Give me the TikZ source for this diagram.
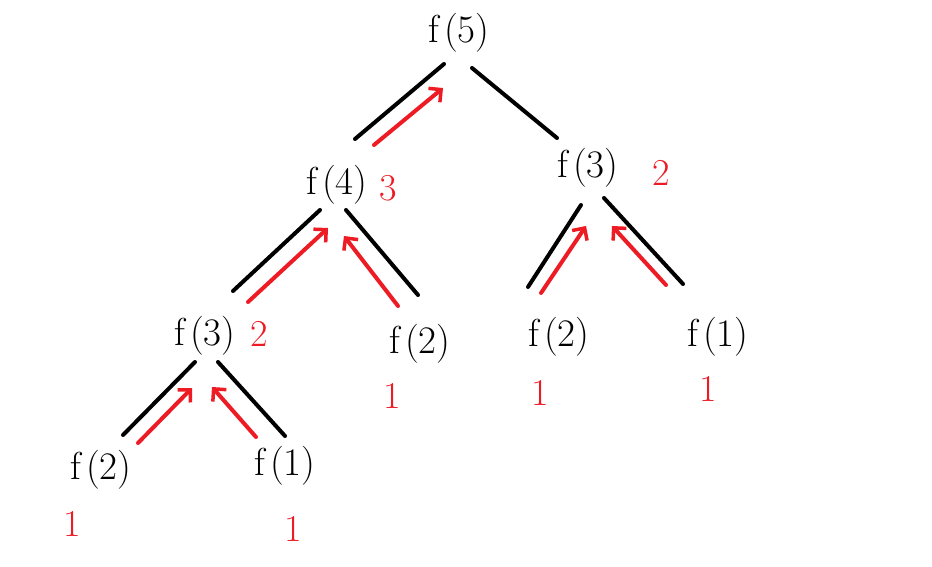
\documentclass[tikz,border=0pt]{standalone}
\usetikzlibrary{arrows.meta}
\definecolor{pred}{RGB}{237,28,36}
\newcommand{\fcall}[1]{f\kern5pt(#1)}
\begin{document}
\begin{tikzpicture}[x=1pt,y=-1pt,
  fn/.style={inner sep=0pt,font=\fontsize{39}{44}\selectfont},
  num/.style={inner sep=0pt,text=pred,font=\fontsize{38}{44}\selectfont},
  edge/.style={line width=4pt,line cap=round,black},
  back/.style={line width=4pt,line cap=round,pred,-{Straight Barb[length=9pt,width=18pt,line width=3.5pt]}}]
\useasboundingbox (0,0) rectangle (932,567);
% function nodes
\node[fn] (f5) at (459,33) {\fcall{5}};
\node[fn] (f4) at (337,185) {\fcall{4}};
\node[fn] (f3r) at (588,168) {\fcall{3}};
\node[fn] (f3l) at (205,336) {\fcall{3}};
\node[fn] (f2a) at (420,344) {\fcall{2}};
\node[fn] (f2b) at (559,337) {\fcall{2}};
\node[fn] (f1a) at (718,337) {\fcall{1}};
\node[fn] (f2c) at (101,470) {\fcall{2}};
\node[fn] (f1b) at (285,466) {\fcall{1}};
% values
\node[num] (v4) at (388,188) {3};
\node[num] (v3r) at (661,173) {2};
\node[num] (v3l) at (259,334) {2};
\node[num] (v2a) at (392,396) {1};
\node[num] (v2b) at (540,393) {1};
\node[num] (v1a) at (708,389) {1};
\node[num] (v2c) at (72,524) {1};
\node[num] (v1b) at (293,529) {1};
% edge end points
\coordinate (a1) at (444,64); \coordinate (a2) at (355,139);
\coordinate (b1) at (472,68); \coordinate (b2) at (557,138);
\coordinate (c1) at (320,210); \coordinate (c2) at (233,291);
\coordinate (d1) at (346,210); \coordinate (d2) at (418,295);
\coordinate (e1) at (581,205); \coordinate (e2) at (528,287);
\coordinate (g1) at (604,198); \coordinate (g2) at (683,284);
\coordinate (h1) at (195,362); \coordinate (h2) at (123,435);
\coordinate (i1) at (218,362); \coordinate (i2) at (285,436);
\draw[edge] (a1) -- (a2);
\draw[edge] (b1) -- (b2);
\draw[edge] (c1) -- (c2);
\draw[edge] (d1) -- (d2);
\draw[edge] (e1) -- (e2);
\draw[edge] (g1) -- (g2);
\draw[edge] (h1) -- (h2);
\draw[edge] (i1) -- (i2);
% return arrows
\coordinate (ra1) at (374,145); \coordinate (ra2) at (443,88);
\coordinate (rb1) at (248,302); \coordinate (rb2) at (328,228);
\coordinate (rc1) at (398,306); \coordinate (rc2) at (344,236);
\coordinate (rd1) at (541,293); \coordinate (rd2) at (586,226);
\coordinate (re1) at (666,285); \coordinate (re2) at (612,226);
\coordinate (rf1) at (138,443); \coordinate (rf2) at (192,388);
\coordinate (rg1) at (256,437); \coordinate (rg2) at (212,387);
\draw[back] (ra1) -- (ra2);
\draw[back] (rb1) -- (rb2);
\draw[back] (rc1) -- (rc2);
\draw[back] (rd1) -- (rd2);
\draw[back] (re1) -- (re2);
\draw[back] (rf1) -- (rf2);
\draw[back] (rg1) -- (rg2);
\end{tikzpicture}
\end{document}
